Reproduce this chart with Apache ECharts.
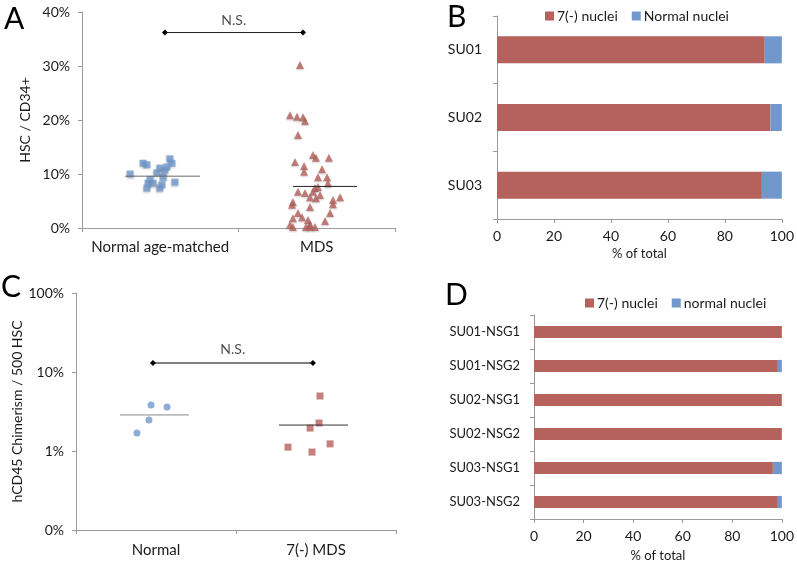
<!DOCTYPE html>
<html><head><meta charset="utf-8">
<script src="https://cdn.jsdelivr.net/npm/echarts@6/dist/echarts.min.js"></script>
<style>html,body{margin:0;padding:0;background:#fff}#c{width:797px;height:563px}</style>
</head><body><div id="c"></div>
<script>
// ---------- Panel A data ----------
const catsA = ['Normal age-matched', 'MDS'];
const normalA_x = [-0.193,-0.110,-0.085,0.062,0.075,0.043,-0.002,-0.021,0.018,0.094,-0.065,-0.078,-0.085,0.011,-0.002,-0.046,0.030];
const normalA_y = [10.0,12.0,11.7,12.8,12.0,11.3,11.1,10.2,9.4,8.5,9.0,8.3,7.4,8.0,7.4,8.3,10.7];
const mdsA_x = [0.893,0.829,0.874,0.912,0.925,0.880,0.861,0.919,0.919,0.976,0.995,1.078,1.034,1.008,1.066,1.072,0.989,1.008,0.976,0.880,0.925,0.957,0.995,1.021,0.848,1.104,1.104,1.149,0.842,0.957,0.880,1.085,0.848,0.906,0.944,0.957,1.053,0.829,0.848,0.931,0.957,0.989];
const mdsA_y = [30.2,20.9,20.6,20.5,19.8,17.2,12.2,11.5,10.4,13.5,13.0,13.0,10.9,9.4,9.4,8.3,7.4,7.6,6.7,6.7,6.5,5.7,5.5,6.1,4.8,5.2,4.4,5.7,4.3,3.9,2.8,2.8,1.8,2.0,1.5,0.7,1.3,0.6,0.2,0.2,0.2,0.2];
const meanA = [9.6, 7.7];
const meanA_span = [[-0.225,0.254],[0.848,1.257]];
const sigA = {x:[0.030,0.912], y:36.2, label:'N.S.', labelY:38.4, labelX:0.47};

// ---------- Panel B data ----------
const catsB = ['SU01','SU02','SU03'];
const delB = [94, 96, 93];
const normB = [6, 4, 7];

// ---------- Panel C data ----------
const catsC = ['Normal', '7(-) MDS'];
const normalC_x = [-0.031,0.069,-0.044,-0.119];
const normalC_y = [3.82,3.6,2.47,1.69];
const mdsC_x = [1.025,1.019,0.963,0.825,1.088,0.975];
const mdsC_y = [4.97,2.26,1.95,1.12,1.23,0.97];
const meanC = [2.86, 2.13];
const meanC_span = [[-0.225,0.206],[0.769,1.2]];
const sigC = {x:[-0.019,0.981], y:13, label:'N.S.', labelY:19.5, labelX:0.48};

// ---------- Panel D data ----------
const catsD = ['SU01-NSG1','SU01-NSG2','SU02-NSG1','SU02-NSG2','SU03-NSG1','SU03-NSG2'];
const delD = [100, 98.4, 100, 100, 96.4, 98.4];
const normD = [0, 1.6, 0, 0, 3.6, 1.6];

const RED = '#b5625c', BLUE = '#7098cc', AX = '#9a9a9a', TXT = '#1a1a1a';
const FONT = 'Lato';
const zip = (a,b) => a.map((v,i)=>[v,b[i]]);

const chart = echarts.init(document.getElementById('c'), null, {renderer:'canvas'});
const axLine = {show:true, onZero:false, lineStyle:{color:AX, width:1}};
const axTick = {show:true, length:4, lineStyle:{color:AX}};
const lbl = (size, extra) => Object.assign({color:TXT, fontFamily:FONT, fontSize:size}, extra||{});

const option = {
  animation:false,
  textStyle:{fontFamily:FONT},
  grid:[
    {left:82, top:12, width:313, height:216},
    {left:497, top:16, width:286, height:203},
    {left:76, top:293, width:320, height:237},
    {left:534, top:315, width:249, height:204}
  ],
  legend:[
    {data:['7(-) nuclei','Normal nuclei'], left:540, top:4, icon:'rect', itemWidth:9, itemHeight:9, itemGap:14,
     textStyle:lbl(14,{padding:[0,0,0,-2]})},
    {data:['7(-) nuclei','normal nuclei'], left:580, top:291, icon:'rect', itemWidth:9, itemHeight:9, itemGap:14,
     textStyle:lbl(14,{padding:[0,0,0,-2]})}
  ],
  xAxis:[
    {type:'category', gridIndex:0, data:catsA, axisLine:axLine, axisTick:axTick, splitLine:{show:false},
     axisLabel:lbl(15,{margin:12, interval:0})},
    {type:'value', gridIndex:0, min:-0.5, max:1.5, show:false},
    {type:'value', gridIndex:1, min:0, max:100, interval:20, axisLine:axLine, axisTick:axTick, splitLine:{show:false},
     axisLabel:lbl(14,{margin:10}), name:'% of total', nameLocation:'middle', nameGap:28, nameTextStyle:lbl(13)},
    {type:'category', gridIndex:2, data:catsC, axisLine:axLine, axisTick:axTick, splitLine:{show:false},
     axisLabel:lbl(15,{margin:13, interval:0})},
    {type:'value', gridIndex:2, min:-0.5, max:1.5, show:false},
    {type:'value', gridIndex:3, min:0, max:100, interval:20, axisLine:axLine, axisTick:axTick, splitLine:{show:false},
     axisLabel:lbl(14,{margin:10}), name:'% of total', nameLocation:'middle', nameGap:30, nameTextStyle:lbl(13)}
  ],
  yAxis:[
    {type:'value', gridIndex:0, min:0, max:40, interval:10, axisLine:axLine, axisTick:axTick, splitLine:{show:false},
     axisLabel:lbl(14,{margin:12, formatter:'{value}%'}),
     name:'HSC / CD34+', nameLocation:'middle', nameGap:50, nameRotate:90, nameTextStyle:lbl(14)},
    {type:'category', gridIndex:1, data:catsB, inverse:true, axisLine:axLine, axisTick:axTick, splitLine:{show:false},
     axisLabel:lbl(14,{margin:15})},
    {type:'log', gridIndex:2, min:0.1, max:100, logBase:10, axisLine:axLine, axisTick:axTick, splitLine:{show:false},
     minorTick:{show:false},
     axisLabel:lbl(14,{margin:12, formatter:v => (v < 0.5 ? '0' : String(Math.round(v))) + '%'}),
     name:'hCD45 Chimerism / 500 HSC', nameLocation:'middle', nameGap:40, nameRotate:90, nameTextStyle:lbl(14)},
    {type:'category', gridIndex:3, data:catsD, inverse:true, axisLine:axLine, axisTick:axTick, splitLine:{show:false},
     axisLabel:lbl(13,{margin:14})}
  ],
  series:[
    // ----- A -----
    {type:'scatter', xAxisIndex:1, yAxisIndex:0, data:zip(normalA_x, normalA_y), symbol:'rect', symbolSize:7,
     itemStyle:{color:BLUE, shadowColor:'rgba(0,0,0,0.25)', shadowBlur:2, shadowOffsetY:1}},
    {type:'scatter', xAxisIndex:1, yAxisIndex:0, data:zip(mdsA_x, mdsA_y), symbol:'triangle', symbolSize:8,
     itemStyle:{color:RED, shadowColor:'rgba(0,0,0,0.25)', shadowBlur:2, shadowOffsetY:1}},
    ...meanA.map((m,i)=>({type:'line', xAxisIndex:1, yAxisIndex:0, symbol:'none', silent:true,
      data:[[meanA_span[i][0], m],[meanA_span[i][1], m]], lineStyle:{color:i?'#222':'#666', width:1}})),
    {type:'line', xAxisIndex:1, yAxisIndex:0, symbol:'diamond', symbolSize:6, silent:true,
     data:[[sigA.x[0], sigA.y],[sigA.x[1], sigA.y]], lineStyle:{color:'#222', width:1}, itemStyle:{color:'#000'}},
    {type:'scatter', xAxisIndex:1, yAxisIndex:0, symbolSize:0, silent:true, data:[[sigA.labelX, sigA.labelY]],
     label:{show:true, position:'inside', formatter:sigA.label, color:TXT, fontFamily:FONT, fontSize:14}},
    // ----- B -----
    {type:'bar', name:'7(-) nuclei', xAxisIndex:2, yAxisIndex:1, stack:'b', data:delB, barWidth:'40%', itemStyle:{color:RED}},
    {type:'bar', name:'Normal nuclei', xAxisIndex:2, yAxisIndex:1, stack:'b', data:normB, barWidth:'40%', itemStyle:{color:BLUE}},
    // ----- C -----
    {type:'scatter', xAxisIndex:4, yAxisIndex:2, data:zip(normalC_x, normalC_y), symbol:'circle', symbolSize:7,
     itemStyle:{color:BLUE}},
    {type:'scatter', xAxisIndex:4, yAxisIndex:2, data:zip(mdsC_x, mdsC_y), symbol:'rect', symbolSize:7,
     itemStyle:{color:RED}},
    ...meanC.map((m,i)=>({type:'line', xAxisIndex:4, yAxisIndex:2, symbol:'none', silent:true,
      data:[[meanC_span[i][0], m],[meanC_span[i][1], m]], lineStyle:{color:i?'#333':'#888', width:1}})),
    {type:'line', xAxisIndex:4, yAxisIndex:2, symbol:'diamond', symbolSize:6, silent:true,
     data:[[sigC.x[0], sigC.y],[sigC.x[1], sigC.y]], lineStyle:{color:'#555', width:1.5}, itemStyle:{color:'#000'}},
    {type:'scatter', xAxisIndex:4, yAxisIndex:2, symbolSize:0, silent:true, data:[[sigC.labelX, sigC.labelY]],
     label:{show:true, position:'inside', formatter:sigC.label, color:TXT, fontFamily:FONT, fontSize:14}},
    // ----- D -----
    {type:'bar', name:'7(-) nuclei', xAxisIndex:5, yAxisIndex:3, stack:'d', data:delD, barWidth:'36%', itemStyle:{color:RED}},
    {type:'bar', name:'normal nuclei', xAxisIndex:5, yAxisIndex:3, stack:'d', data:normD, barWidth:'36%', itemStyle:{color:BLUE}}
  ],
  graphic:[
    {type:'text', left:4, top:4, style:{text:'A', fontFamily:FONT, fontSize:30, fill:'#000'}},
    {type:'text', left:447, top:2, style:{text:'B', fontFamily:FONT, fontSize:30, fill:'#000'}},
    {type:'text', left:1, top:272, style:{text:'C', fontFamily:FONT, fontSize:30, fill:'#000'}},
    {type:'text', left:445, top:280, style:{text:'D', fontFamily:FONT, fontSize:30, fill:'#000'}}
  ]
};
chart.setOption(option);
</script></body></html>
